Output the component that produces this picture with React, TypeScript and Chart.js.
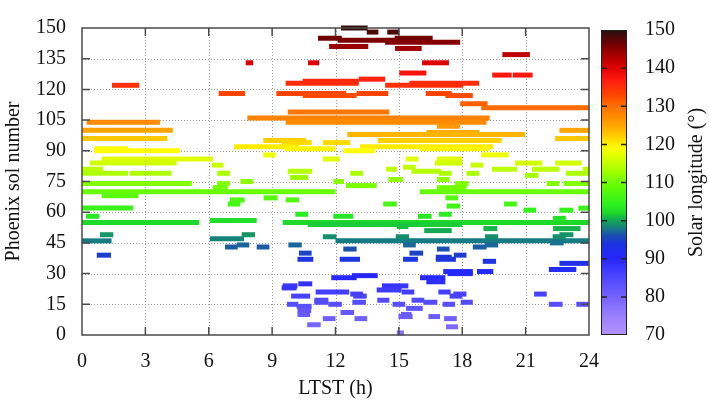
import React, { useEffect, useRef } from 'react';
import { Chart, registerables } from 'chart.js';

Chart.register(...registerables);

// ---------------- Data ----------------
const xTickValues = [0, 3, 6, 9, 12, 15, 18, 21, 24];
const yTickValues = [0, 15, 30, 45, 60, 75, 90, 105, 120, 135, 150];
const cbTickValues = [70, 80, 90, 100, 110, 120, 130, 140, 150];

// Observation segments: sol, start LTST (h), end LTST (h)
const segSol = [
  150, 148, 148, 145, 144, 145, 143, 141, 140, 137,
  133, 133, 133, 128, 127, 127, 124, 125, 123, 122,
  122, 123, 118, 118, 117, 118, 118, 117, 113, 111,
  109, 106, 104, 104, 102, 100, 100, 96, 96, 99,
  98, 95, 94, 94, 95, 92, 91, 92, 91, 91,
  90, 90, 88, 88, 86, 84, 86, 86, 86, 83,
  84, 84, 84, 83, 81, 79, 79, 79, 80, 77,
  81, 82, 80, 79, 81, 81, 79, 79, 78, 79,
  81, 74, 74, 72, 75, 75, 76, 76, 74, 74,
  74, 70, 70, 68, 66, 64, 67, 66, 62, 58,
  59, 58, 55, 56, 55, 54, 49, 46, 47, 49,
  48, 46, 43, 44, 43, 44, 39, 40, 37, 73,
  72, 67, 64, 63, 64, 61, 61, 62, 58, 59,
  53, 51, 52, 52, 57, 49, 48, 48, 48, 45,
  42, 44, 42, 43, 44, 40, 37, 37, 37, 38,
  39, 36, 35, 28, 29, 25, 23, 24, 19, 21,
  17, 16, 15, 14, 12, 10, 15, 8, 5, 31,
  30, 31, 32, 28, 26, 24, 22, 20, 19, 21,
  21, 19, 20, 20, 17, 17, 16, 16, 15, 15,
  16, 15, 15, 13, 11, 9, 10, 9, 8, 8,
  4, 1,
];

const segStart = [
  12.26, 13.48, 14.45, 11.17, 12.1, 14.8, 14.35, 11.7, 14.82, 19.9,
  7.75, 10.7, 16.1, 15.02, 19.42, 20.39, 10.45, 13.1, 9.64, 1.42,
  14.35, 15.5, 6.47, 9.2, 10.45, 13.0, 16.27, 17.2, 17.9, 18.9,
  9.74, 7.83, 9.64, 0.22, 16.8, 0, 22.6, 0, 22.4, 16.3,
  12.56, 8.58, 9.45, 11.4, 14.0, 7.2, 9.6, 13.16, 16.0, 0.58,
  0.58, 12.37, 8.58, 18.9, 0.93, 0.38, 11.4, 15.34, 16.8, 6.14,
  20.5, 22.4, 16.7, 18.4, 0, 0, 2.27, 6.4, 9.74, 9.85,
  14.4, 15.2, 15.6, 16.9, 19.4, 21.3, 12.7, 18.2, 20.97, 22.9,
  23.7, 0, 6.4, 6.2, 7.5, 11.9, 14.5, 16.8, 17.66, 22.0,
  22.8, 0, 16.0, 0.93, 7.0, 6.9, 8.6, 9.64, 0, 0.19,
  10.1, 11.9, 0, 6.06, 9.5, 10.7, 0.85, 0, 6.06, 7.56,
  11.4, 12.0, 6.77, 7.32, 8.27, 9.77, 0.7, 10.27, 10.2, 12.5,
  16.8, 17.2, 14.26, 17.26, 19.98, 20.9, 22.6, 23.5, 15.9, 16.9,
  14.9, 16.2, 19.0, 22.3, 22.3, 22.6, 14.85, 19.08, 22.28, 22.15,
  12.37, 15.2, 16.8, 18.5, 19.08, 15.5, 15.2, 12.2, 16.75, 16.75,
  17.6, 18.97, 22.6, 11.8, 12.77, 10.24, 9.45, 9.5, 9.9, 11.06,
  11.0, 11.0, 9.7, 10.16, 10.2, 10.2, 11.66, 11.4, 10.66, 17.1,
  17.3, 18.7, 22.1, 16.0, 16.3, 14.2, 13.95, 12.7, 12.84, 15.13,
  16.87, 17.4, 17.58, 21.4, 13.98, 15.6, 16.16, 12.8, 14.7, 17.07,
  17.93, 22.1, 23.4, 15.34, 12.24, 14.98, 15.1, 16.4, 12.9, 17.14,
  17.23, 14.9,
];

const segEnd = [
  13.52, 14.03, 15.02, 12.3, 14.82, 16.6, 17.9, 13.55, 16.08, 21.2,
  8.1, 11.23, 17.37, 16.3, 20.34, 21.33, 13.1, 14.35, 13.1, 2.71,
  18.04, 18.8, 7.72, 12.5, 13.0, 14.5, 17.5, 18.5, 19.2, 24,
  14.55, 19.3, 19.15, 3.69, 17.9, 4.3, 24, 4.04, 24, 18.8,
  20.97, 10.6, 10.87, 12.7, 19.87, 10.3, 12.0, 19.47, 19.3, 2.19,
  4.64, 13.87, 9.17, 20.2, 6.2, 4.48, 12.2, 15.92, 18.0, 6.69,
  21.8, 23.65, 18.0, 19.0, 1.0, 2.19, 4.24, 7.0, 10.9, 10.7,
  14.9, 15.8, 17.0, 17.5, 20.6, 22.6, 13.3, 18.8, 21.6, 24,
  24, 5.2, 7.0, 6.9, 8.1, 12.4, 15.2, 17.4, 18.3, 22.6,
  24, 12.0, 24, 2.67, 7.7, 7.5, 9.26, 10.27, 2.43, 0.82,
  10.7, 12.84, 5.55, 8.27, 24, 18.0, 1.48, 1.4, 7.67, 8.19,
  12.05, 24, 7.37, 7.92, 8.87, 10.4, 1.37, 10.87, 10.95, 13.95,
  18.2, 17.8, 14.9, 17.9, 20.58, 21.5, 23.26, 24, 16.55, 17.5,
  15.45, 17.5, 19.66, 23.6, 22.9, 23.26, 15.48, 19.7, 22.9, 22.8,
  13.0, 15.8, 17.4, 19.15, 19.7, 16.15, 15.9, 13.16, 17.7, 17.5,
  18.2, 19.6, 24, 13.0, 14.0, 10.9, 10.16, 10.2, 10.8, 12.65,
  11.66, 11.66, 10.24, 10.87, 10.85, 10.8, 12.3, 12.0, 11.3, 18.5,
  18.5, 19.47, 23.4, 17.2, 17.2, 15.45, 15.13, 13.3, 13.48, 15.73,
  17.45, 18.0, 18.2, 22.0, 14.55, 16.2, 16.82, 13.44, 15.3, 17.66,
  18.5, 22.75, 24, 16.13, 12.88, 15.65, 15.6, 16.95, 13.5, 17.74,
  17.8, 15.24,
];

// Sol -> solar longitude calibration points
const calSol = [0, 46, 55, 74, 90, 104, 118, 133, 150];
const calLs = [77, 98, 102, 111, 119, 127.5, 133, 140, 149];

// Colormap stops (Ls -> colour)
const cmapLs = [70, 75, 80, 85, 90, 94, 96, 97.5, 99, 100.5, 102, 104, 110, 114, 119, 122, 125, 130, 133, 137, 140, 143, 146, 150];
const cmapColors = [
  '#b592ff', '#9a80ff', '#7462ff', '#4f48ff', '#2626ff', '#1c34e0', '#1a4cb4', '#187090', '#14906a', '#12b050',
  '#1ed82a', '#2af020', '#70ff00', '#b4ff00', '#ffff00', '#ffd000', '#ffa400', '#ff7000', '#ff4400', '#ff1a10',
  '#e00000', '#b00000', '#780000', '#241010',
];

function interp(xs: number[], ys: number[], v: number) {
  if (v <= xs[0]) return ys[0];
  for (let i = 0; i < xs.length - 1; i++) {
    if (v <= xs[i + 1]) return ys[i] + ((ys[i + 1] - ys[i]) * (v - xs[i])) / (xs[i + 1] - xs[i]);
  }
  return ys[ys.length - 1];
}
const solToLs = (sol: number) => interp(calSol, calLs, sol);

function hexToRgb(h: string) {
  const n = parseInt(h.slice(1), 16);
  return [(n >> 16) & 255, (n >> 8) & 255, n & 255];
}
function lsToColor(ls: number): string {
  const n = cmapLs.length;
  if (ls <= cmapLs[0]) return cmapColors[0];
  if (ls >= cmapLs[n - 1]) return cmapColors[n - 1];
  for (let i = 0; i < n - 1; i++) {
    if (ls <= cmapLs[i + 1]) {
      const t = (ls - cmapLs[i]) / (cmapLs[i + 1] - cmapLs[i]);
      const a = hexToRgb(cmapColors[i]);
      const b = hexToRgb(cmapColors[i + 1]);
      const c = a.map((v, k) => Math.round(v + (b[k] - v) * t));
      return `rgb(${c[0]},${c[1]},${c[2]})`;
    }
  }
  return cmapColors[n - 1];
}

const FONT = 'Liberation Serif, Times New Roman, serif';
const AXIS_COLOR = '#4a4a4a';

const framePlugin = {
  id: 'frameTicks',
  beforeDatasetsDraw(chart: any) {
    const { ctx, chartArea: a, scales } = chart;
    ctx.save();
    ctx.strokeStyle = '#9a9a9a';
    ctx.lineWidth = 1;
    ctx.setLineDash([1, 2]);
    xTickValues.slice(1, -1).forEach((v) => {
      const x = Math.round(scales.x.getPixelForValue(v)) + 0.5;
      ctx.beginPath(); ctx.moveTo(x, a.top); ctx.lineTo(x, a.bottom); ctx.stroke();
    });
    yTickValues.slice(1, -1).forEach((v) => {
      const y = Math.round(scales.y.getPixelForValue(v)) + 0.5;
      ctx.beginPath(); ctx.moveTo(a.left, y); ctx.lineTo(a.right, y); ctx.stroke();
    });
    ctx.restore();
  },
  afterDatasetsDraw(chart: any) {
    const { ctx, chartArea: a, scales } = chart;
    ctx.save();
    ctx.setLineDash([]);
    ctx.strokeStyle = AXIS_COLOR;
    ctx.lineWidth = 1.5;
    ctx.strokeRect(a.left, a.top, a.right - a.left, a.bottom - a.top);
    const L = 8;
    xTickValues.slice(1, -1).forEach((v) => {
      const x = scales.x.getPixelForValue(v);
      ctx.beginPath();
      ctx.moveTo(x, a.bottom); ctx.lineTo(x, a.bottom - L);
      ctx.moveTo(x, a.top); ctx.lineTo(x, a.top + L);
      ctx.stroke();
    });
    yTickValues.slice(1, -1).forEach((v) => {
      const y = scales.y.getPixelForValue(v);
      ctx.beginPath();
      ctx.moveTo(a.left, y); ctx.lineTo(a.left + L, y);
      ctx.moveTo(a.right, y); ctx.lineTo(a.right - L, y);
      ctx.stroke();
    });
    ctx.restore();
  },
};

const colorbarPlugin = {
  id: 'cbDecor',
  afterDatasetsDraw(chart: any) {
    const { ctx, chartArea: a, scales } = chart;
    ctx.save();
    ctx.strokeStyle = '#222';
    ctx.lineWidth = 1;
    ctx.strokeRect(a.left + 0.5, a.top + 0.5, a.right - a.left - 1, a.bottom - a.top - 1);
    ctx.lineWidth = 1.5;
    const L = 6;
    cbTickValues.slice(1, -1).forEach((v) => {
      const y = scales.y.getPixelForValue(v);
      ctx.beginPath();
      ctx.moveTo(a.left, y); ctx.lineTo(a.left + L, y);
      ctx.moveTo(a.right, y); ctx.lineTo(a.right - L, y);
      ctx.stroke();
    });
    // axis title (reads bottom to top)
    ctx.translate(107, (a.top + a.bottom) / 2);
    ctx.rotate(-Math.PI / 2);
    ctx.fillStyle = '#111';
    ctx.font = `20px ${FONT}`;
    ctx.textAlign = 'center';
    ctx.textBaseline = 'middle';
    ctx.fillText('Solar longitude (°)', 0, 0);
    ctx.restore();
  },
};

export default function App() {
  const mainRef = useRef<HTMLCanvasElement>(null);
  const cbRef = useRef<HTMLCanvasElement>(null);

  useEffect(() => {
    const points: any[] = [];
    for (let i = 0; i < segSol.length; i++) {
      points.push({ x: segStart[i], y: segSol[i] });
      points.push({ x: segEnd[i], y: segSol[i] });
      points.push({ x: null, y: null });
    }

    const main = new Chart(mainRef.current!, {
      type: 'line',
      data: {
        datasets: [
          {
            data: points,
            borderWidth: 5,
            borderCapStyle: 'butt',
            pointRadius: 0,
            pointHoverRadius: 0,
            spanGaps: false,
            fill: false,
            tension: 0,
            clip: false as any,
            borderColor: '#000',
            segment: {
              borderColor: (ctx: any) => lsToColor(solToLs(segSol[Math.floor(ctx.p0DataIndex / 3)])),
            },
          } as any,
        ],
      },
      options: {
        animation: false,
        responsive: false,
        maintainAspectRatio: false,
        layout: { padding: { top: 9, right: 120, left: 0, bottom: 0 } },
        plugins: { legend: { display: false }, tooltip: { enabled: false } },
        scales: {
          x: {
            type: 'linear',
            min: 0,
            max: 24,
            afterBuildTicks: (s: any) => { s.ticks = xTickValues.map((v) => ({ value: v })); },
            afterFit: (s: any) => { s.height = 71; },
            grid: { display: false, drawTicks: false },
            border: { display: false },
            ticks: { font: { family: FONT, size: 20 }, color: '#111', padding: 15, maxRotation: 0 },
            title: { display: true, text: 'LTST (h)', font: { family: FONT, size: 20 }, color: '#111', padding: { bottom: 5 } },
          },
          y: {
            type: 'linear',
            min: 0,
            max: 150,
            afterBuildTicks: (s: any) => { s.ticks = yTickValues.map((v) => ({ value: v })); },
            afterFit: (s: any) => { s.width = 82; },
            grid: { display: false, drawTicks: false },
            border: { display: false },
            ticks: { font: { family: FONT, size: 20 }, color: '#111', padding: 16 },
            title: { display: true, text: 'Phoenix sol number', font: { family: FONT, size: 20 }, color: '#111', padding: { top: 2 } },
          },
        },
      } as any,
      plugins: [framePlugin],
    });

    const cb = new Chart(cbRef.current!, {
      type: 'bar',
      data: {
        labels: ['Ls'],
        datasets: [
          {
            data: [[cbTickValues[0], cbTickValues[cbTickValues.length - 1]]],
            barPercentage: 1,
            categoryPercentage: 1,
            borderWidth: 0,
            backgroundColor: (ctx: any) => {
              const chart = ctx.chart;
              const area = chart.chartArea;
              if (!area) return '#888';
              const ys = chart.scales.y;
              const lo = cbTickValues[0];
              const hi = cbTickValues[cbTickValues.length - 1];
              const g = chart.ctx.createLinearGradient(0, ys.getPixelForValue(lo), 0, ys.getPixelForValue(hi));
              cmapLs.forEach((ls, i) => g.addColorStop((ls - lo) / (hi - lo), cmapColors[i]));
              return g;
            },
          } as any,
        ],
      },
      options: {
        animation: false,
        responsive: false,
        maintainAspectRatio: false,
        layout: { padding: { top: 9, left: 11, right: 0, bottom: 71 } },
        plugins: { legend: { display: false }, tooltip: { enabled: false } },
        scales: {
          x: { display: false },
          y: {
            position: 'right',
            min: 70,
            max: 150,
            afterBuildTicks: (s: any) => { s.ticks = cbTickValues.map((v) => ({ value: v })); },
            afterFit: (s: any) => { s.width = 82; },
            grid: { display: false, drawTicks: false },
            border: { display: false },
            ticks: { font: { family: FONT, size: 20 }, color: '#111', padding: 18 },
          },
        },
      } as any,
      plugins: [colorbarPlugin],
    });

    return () => {
      main.destroy();
      cb.destroy();
    };
  }, []);

  return (
    <div style={{ position: 'fixed', left: 0, top: 0, width: 709, height: 406, background: '#fff' }}>
      <canvas ref={mainRef} width={709} height={406} style={{ position: 'absolute', left: 0, top: 0, width: 709, height: 406 }} />
      <canvas ref={cbRef} width={119} height={406} style={{ position: 'absolute', left: 590, top: 0, width: 119, height: 406 }} />
    </div>
  );
}
